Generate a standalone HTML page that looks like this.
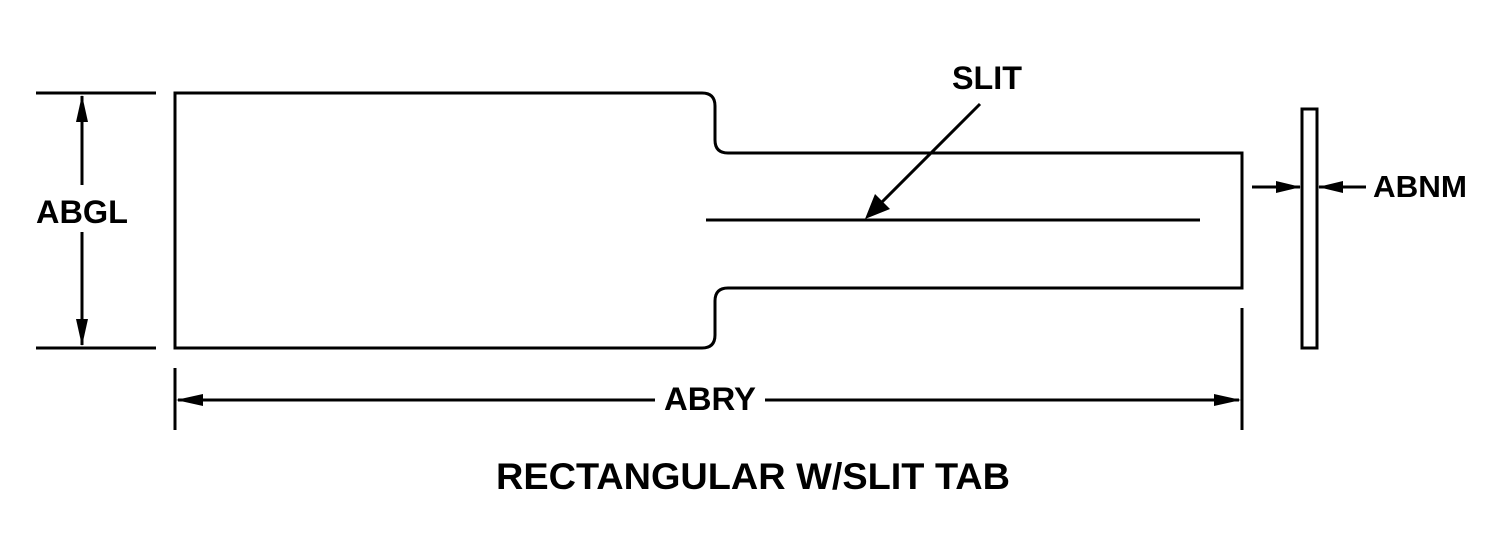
<!DOCTYPE html>
<html><head><style>body{margin:0;background:#fff}svg{display:block}</style></head><body>
<svg width="1500" height="540" viewBox="0 0 1500 540" xmlns="http://www.w3.org/2000/svg">
<g fill="none" stroke="#000" stroke-width="3">
<path d="M175 93 H702 Q715 93 715 106 V140 Q715 153 728 153 H1242 V288 H728 Q715 288 715 301 V335 Q715 348 702 348 H175 Z"/>
<line x1="706" y1="220" x2="1200" y2="220"/>
<rect x="1302" y="109" width="15" height="239"/>
<line x1="36" y1="93" x2="156" y2="93"/>
<line x1="36" y1="348" x2="156" y2="348"/>
<line x1="82" y1="96" x2="82" y2="185"/>
<line x1="82" y1="232" x2="82" y2="345"/>
<line x1="175" y1="368" x2="175" y2="430"/>
<line x1="1242" y1="308" x2="1242" y2="430"/>
<line x1="178" y1="400" x2="655" y2="400"/>
<line x1="765" y1="400" x2="1239" y2="400"/>
<line x1="1252" y1="187" x2="1300" y2="187"/>
<line x1="1319" y1="187" x2="1366" y2="187"/>
<line x1="980" y1="104" x2="870" y2="214"/>
</g>
<g fill="#000">
<polygon points="82,95 76,122 88,122"/>
<polygon points="82,346 76,319 88,319"/>
<polygon points="176,400 203,394 203,406"/>
<polygon points="1241,400 1214,394 1214,406"/>
<polygon points="1301,187 1276,181 1276,193"/>
<polygon points="1318,187 1343,181 1343,193"/>
<polygon points="865,219 875,194 890,209"/>
</g>
<g font-family="Liberation Sans, sans-serif" font-weight="bold" fill="#000">
<text x="36" y="223" font-size="32" textLength="92" lengthAdjust="spacingAndGlyphs">ABGL</text>
<text x="664" y="410" font-size="32" textLength="92" lengthAdjust="spacingAndGlyphs">ABRY</text>
<text x="1373" y="197" font-size="31" textLength="94" lengthAdjust="spacingAndGlyphs">ABNM</text>
<text x="952" y="89" font-size="32" textLength="70" lengthAdjust="spacingAndGlyphs">SLIT</text>
<text x="496" y="489" font-size="37" textLength="514" lengthAdjust="spacingAndGlyphs">RECTANGULAR W/SLIT TAB</text>
</g>
</svg>
</body></html>
